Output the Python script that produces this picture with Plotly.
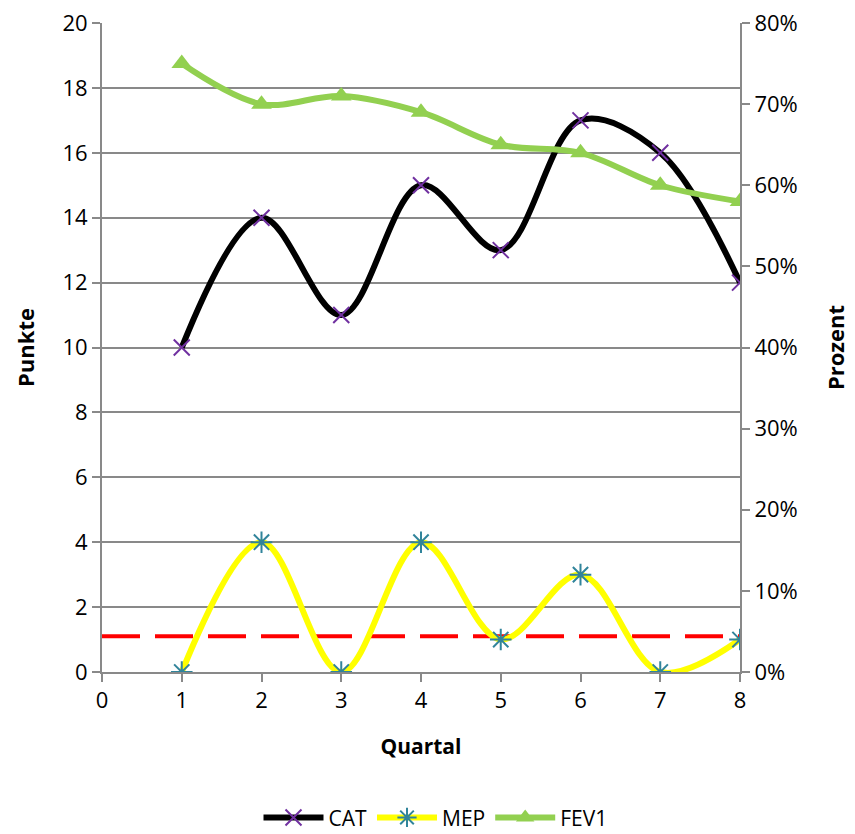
import plotly.graph_objects as go

quartal = [1, 2, 3, 4, 5, 6, 7, 8]
cat = [10, 14, 11, 15, 13, 17, 16, 12]
mep = [0, 4, 0, 4, 1, 3, 0, 1]
fev1 = [0.75, 0.70, 0.71, 0.69, 0.65, 0.64, 0.60, 0.58]
ref_x = [0, 8]
ref_y = [1.1, 1.1]

FONT = "Open Sans"
GRID = "#898989"

fig = go.Figure()
fig.add_trace(go.Scatter(x=ref_x, y=ref_y, mode="lines", showlegend=False,
                         line=dict(color="#FF0000", width=4, dash="38px,15px")))
fig.add_trace(go.Scatter(x=quartal, y=cat, name="CAT", mode="lines+markers",
                         line=dict(color="black", width=6, shape="spline", smoothing=1),
                         marker=dict(symbol="x-thin-open", size=16, color="#7030A0",
                                     line=dict(color="#7030A0", width=2))))
fig.add_trace(go.Scatter(x=quartal, y=mep, name="MEP", mode="lines+markers",
                         line=dict(color="#FFFF00", width=6, shape="spline", smoothing=1),
                         marker=dict(symbol="asterisk-open", size=18, color="#31849B",
                                     line=dict(color="#31849B", width=2))))
fig.add_trace(go.Scatter(x=quartal, y=fev1, name="FEV1", mode="lines+markers", yaxis="y2",
                         line=dict(color="#92D050", width=6, shape="spline", smoothing=1),
                         marker=dict(symbol="triangle-up", size=18, color="#92D050")))

fig.update_layout(
    width=855, height=834,
    margin=dict(l=94, r=123, t=15, b=170),
    paper_bgcolor="white", plot_bgcolor="white",
    font=dict(family=FONT, size=21, color="black"),
    xaxis=dict(range=[0, 8], dtick=1, tick0=0, showgrid=False, zeroline=False, automargin=False,
               showline=True, linecolor=GRID, linewidth=2, ticks="outside", ticklen=8,
               tickcolor=GRID, tickwidth=2, tickfont=dict(size=22), ticklabeloverflow="allow",
               title=dict(text="<b>Quartal</b>", font=dict(size=21), standoff=26)),
    yaxis=dict(range=[0, 20], dtick=2, showgrid=True, gridcolor=GRID, gridwidth=2, automargin=False,
               zeroline=False, showline=True, linecolor=GRID, linewidth=2, ticklabeloverflow="allow",
               ticks="outside", ticklen=8, tickcolor=GRID, tickwidth=2, tickfont=dict(size=22),
               title=dict(text="<b>Punkte</b>", font=dict(size=22), standoff=22)),
    yaxis2=dict(range=[0, 0.8], dtick=0.1, tickformat=".0%", overlaying="y", side="right",
                automargin=False, tickfont=dict(size=22), ticklabeloverflow="allow",
                showgrid=False, zeroline=False, showline=True, linecolor=GRID, linewidth=2,
                ticks="outside", ticklen=8, tickcolor=GRID, tickwidth=2,
                title=dict(text="<b>Prozent</b>", font=dict(size=22), standoff=32)),
    legend=dict(orientation="h", xref="container", yref="container",
                x=0.5, xanchor="center", y=0.029, yanchor="middle",
                font=dict(size=21), itemwidth=60),
)

fig.write_html("out.html")
